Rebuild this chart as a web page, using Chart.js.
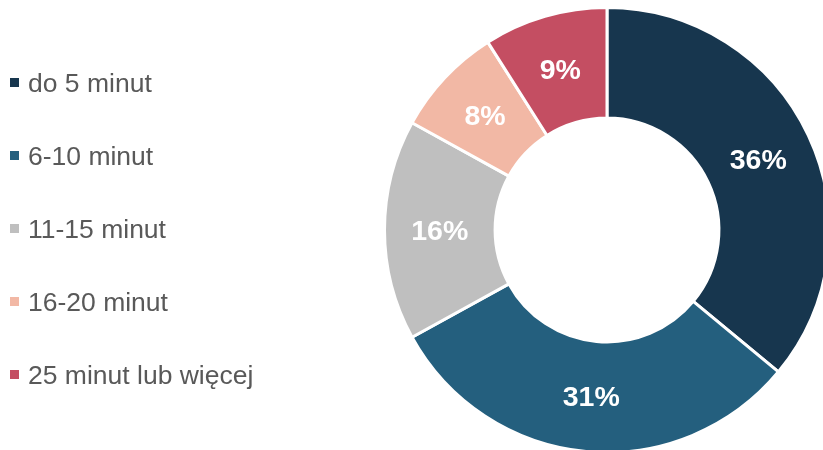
<!DOCTYPE html>
<html>
<head>
<meta charset="utf-8">
<script src="https://cdn.jsdelivr.net/npm/chart.js@4"></script>
<style>
  html, body { margin: 0; padding: 0; background: #ffffff; overflow: hidden; width: 823px; height: 450px; }
  #wrap { position: absolute; left: 0; top: 0; width: 840px; height: 470px; }
</style>
</head>
<body>
<div id="wrap"><canvas id="c" width="840" height="470"></canvas></div>
<script>
const categories = ['do 5 minut', '6-10 minut', '11-15 minut', '16-20 minut', '25 minut lub więcej'];
const values = [36, 31, 16, 8, 9];
const colors = ['#17364E', '#245F7E', '#BFBFBF', '#F2B8A5', '#C44E62'];

const legendPlugin = {
  id: 'leftLegend',
  afterDraw(chart) {
    const ctx = chart.ctx;
    const labels = chart.data.labels;
    const bg = chart.data.datasets[0].backgroundColor;
    ctx.save();
    ctx.font = '26.5px "Liberation Sans", Arial, sans-serif';
    ctx.textAlign = 'left';
    ctx.textBaseline = 'alphabetic';
    labels.forEach((lab, i) => {
      const top = 78 + i * 73;
      ctx.fillStyle = bg[i];
      ctx.fillRect(10, top, 9, 9);
      ctx.fillStyle = '#595959';
      ctx.fillText(lab, 28, top + 14);
    });
    ctx.restore();
  }
};

const labelPlugin = {
  id: 'arcLabels',
  afterDatasetsDraw(chart) {
    const ctx = chart.ctx;
    const meta = chart.getDatasetMeta(0);
    const data = chart.data.datasets[0].data;
    ctx.save();
    ctx.font = 'bold 28.5px "Liberation Sans", Arial, sans-serif';
    ctx.fillStyle = '#ffffff';
    ctx.textAlign = 'center';
    ctx.textBaseline = 'middle';
    meta.data.forEach((arc, i) => {
      const p = arc.getCenterPoint();
      ctx.fillText(data[i] + '%', p.x, p.y + 2);
    });
    ctx.restore();
  }
};

new Chart(document.getElementById('c'), {
  type: 'doughnut',
  data: {
    labels: categories,
    datasets: [{
      data: values,
      backgroundColor: colors,
      borderColor: '#ffffff',
      borderWidth: 3,
      hoverOffset: 0
    }]
  },
  options: {
    responsive: false,
    animation: false,
    radius: 222.5,
    cutout: '50.3%',
    layout: { padding: { left: 387, right: 13, top: 9, bottom: 19 } },
    plugins: {
      legend: { display: false },
      tooltip: { enabled: false }
    }
  },
  plugins: [legendPlugin, labelPlugin]
});
</script>
</body>
</html>
